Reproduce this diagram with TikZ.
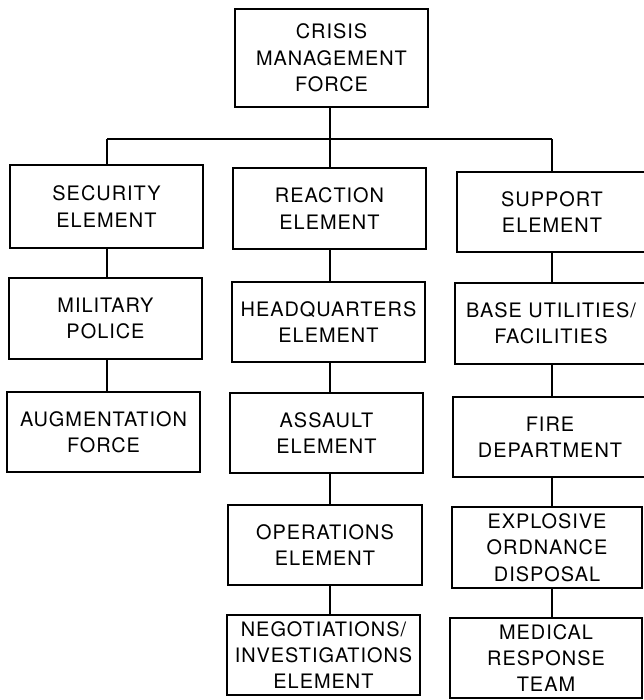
\documentclass[tikz,border=0pt]{standalone}
\usepackage{fontspec}
\setmainfont{TeX Gyre Heros}[LetterSpace=5]
\newcommand\unitpx{0.03}
\tikzset{
  orgbox/.style={draw, line width=1.2pt, rectangle, inner sep=0pt, align=center,
    font=\fontsize{17}{22.5}\selectfont},
  link/.style={line width=1.2pt}
}
\newcommand\pxbox[6]{%
  \node[orgbox, minimum width={(#4-#2)*\unitpx cm}, minimum height={(#5-#3)*\unitpx cm}]
    (#1) at ({(#2+#4)/2*\unitpx},{-(#3+#5)/2*\unitpx}) {#6};}
\begin{document}
\begin{tikzpicture}
\useasboundingbox (0,0) rectangle (643*\unitpx,-700*\unitpx);
\pxbox{cmf}{235}{9}{428}{107}{CRISIS\\MANAGEMENT\\FORCE}
\pxbox{sec}{10}{165}{203}{248}{SECURITY\\ELEMENT}
\pxbox{mp}{9}{278}{202}{359}{MILITARY\\POLICE}
\pxbox{aug}{7}{392}{200}{472}{AUGMENTATION\\FORCE}
\pxbox{rea}{233}{168}{426}{249}{REACTION\\ELEMENT}
\pxbox{hq}{232}{282}{425}{362}{HEADQUARTERS\\ELEMENT}
\pxbox{asl}{230}{393}{423}{473}{ASSAULT\\ELEMENT}
\pxbox{ops}{228}{505}{422}{585}{OPERATIONS\\ELEMENT}
\pxbox{neg}{227}{615}{420}{695}{NEGOTIATIONS/\\INVESTIGATIONS\\ELEMENT}
\pxbox{sup}{457}{172}{647}{252}{SUPPORT\\ELEMENT}
\pxbox{base}{455}{283}{647}{364}{BASE UTILITIES/\\FACILITIES}
\pxbox{fire}{453}{397}{647}{477}{FIRE\\DEPARTMENT}
\pxbox{eod}{452}{507}{642}{588}{EXPLOSIVE\\ORDNANCE\\DISPOSAL}
\pxbox{med}{450}{618}{642}{698}{MEDICAL\\RESPONSE\\TEAM}
\coordinate (c1) at (107*\unitpx,-139*\unitpx);
\coordinate (c2) at (330*\unitpx,-139*\unitpx);
\coordinate (c3) at (552*\unitpx,-139*\unitpx);
% top bus
\draw[link] (cmf.south -| c2) -- (c2);
\draw[link] (c1) -- (c3);
% column 1
\draw[link] (c1) -- (sec.north -| c1);
\draw[link] (sec.south -| c1) -- (mp.north -| c1);
\draw[link] (mp.south -| c1) -- (aug.north -| c1);
% column 2
\draw[link] (c2) -- (rea.north -| c2);
\draw[link] (rea.south -| c2) -- (hq.north -| c2);
\draw[link] (hq.south -| c2) -- (asl.north -| c2);
\draw[link] (asl.south -| c2) -- (ops.north -| c2);
\draw[link] (ops.south -| c2) -- (neg.north -| c2);
% column 3
\draw[link] (c3) -- (sup.north -| c3);
\draw[link] (sup.south -| c3) -- (base.north -| c3);
\draw[link] (base.south -| c3) -- (fire.north -| c3);
\draw[link] (fire.south -| c3) -- (eod.north -| c3);
\draw[link] (eod.south -| c3) -- (med.north -| c3);
\end{tikzpicture}
\end{document}
